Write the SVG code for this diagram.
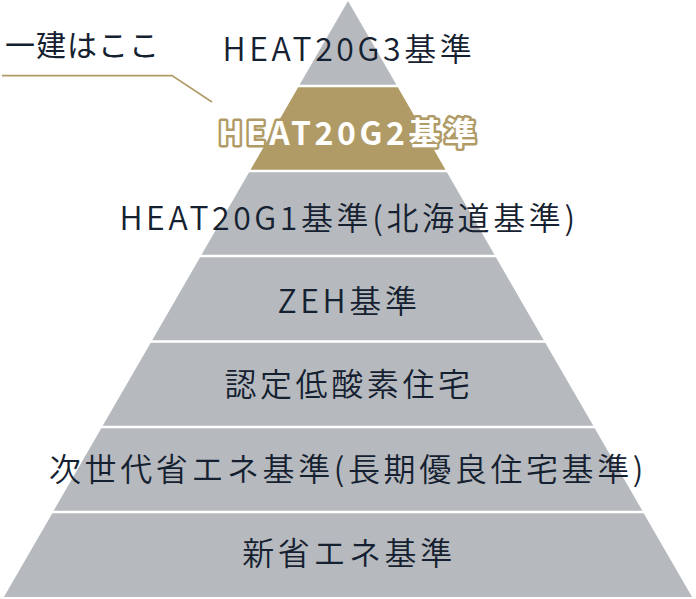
<svg xmlns="http://www.w3.org/2000/svg" width="696" height="599" viewBox="0 0 696 599">
<style>
.band{fill:#b6babe}
.gold{fill:#b09b66}
.t{font-family:"Noto Sans CJK JP","Noto Sans",sans-serif;font-size:32px;font-weight:350;letter-spacing:3.6px;fill:#152130;text-anchor:middle}
.hl{font-weight:bold;fill:#ffffff;stroke:#b09b66;stroke-width:5px;stroke-linejoin:round;paint-order:stroke}
.lbl{font-family:"Noto Sans CJK JP",sans-serif;font-size:30px;font-weight:400;fill:#152130;letter-spacing:1px}
.lead{fill:none;stroke:#b09b66;stroke-width:1.6}
</style>
<rect width="696" height="599" fill="#ffffff"/>
<g id="level-g3">
<polygon class="band" points="348,1 396.4,84.8 299.6,84.8"/>
<text class="t" x="349" y="61">HEAT20G3基準</text>
</g>
<g id="level-g2">
<polygon class="gold" points="298.2,87.2 397.8,87.2 445.5,169.8 250.5,169.8"/>
<text class="t hl" x="349" y="145">HEAT20G2基準</text>
</g>
<g id="level-g1">
<polygon class="band" points="249.1,172.2 446.9,172.2 494.5,254.8 201.5,254.8"/>
<text class="t" x="349" y="230">HEAT20G1基準(北海道基準)</text>
</g>
<g id="level-zeh">
<polygon class="band" points="200.1,257.2 495.9,257.2 543.8,340.3 152.2,340.3"/>
<text class="t" x="349" y="313">ZEH基準</text>
</g>
<g id="level-nintei">
<polygon class="band" points="150.7,342.7 545.3,342.7 593.3,425.8 102.7,425.8"/>
<text class="t" x="349" y="396">認定低酸素住宅</text>
</g>
<g id="level-jisedai">
<polygon class="band" points="101.3,428.2 594.7,428.2 642.4,510.8 53.6,510.8"/>
<text class="t" x="348" y="481">次世代省エネ基準(長期優良住宅基準)</text>
</g>
<g id="level-shin">
<polygon class="band" points="52.3,513.2 643.7,513.2 692.1,597 3.9,597"/>
<text class="t" x="349" y="565">新省エネ基準</text>
</g>
<g id="label">
<text class="lbl" x="5" y="56">一建はここ</text>
</g>
<g id="connectors">
<polyline class="lead" points="2,75.6 172,75.6 212,102"/>
</g>
</svg>
